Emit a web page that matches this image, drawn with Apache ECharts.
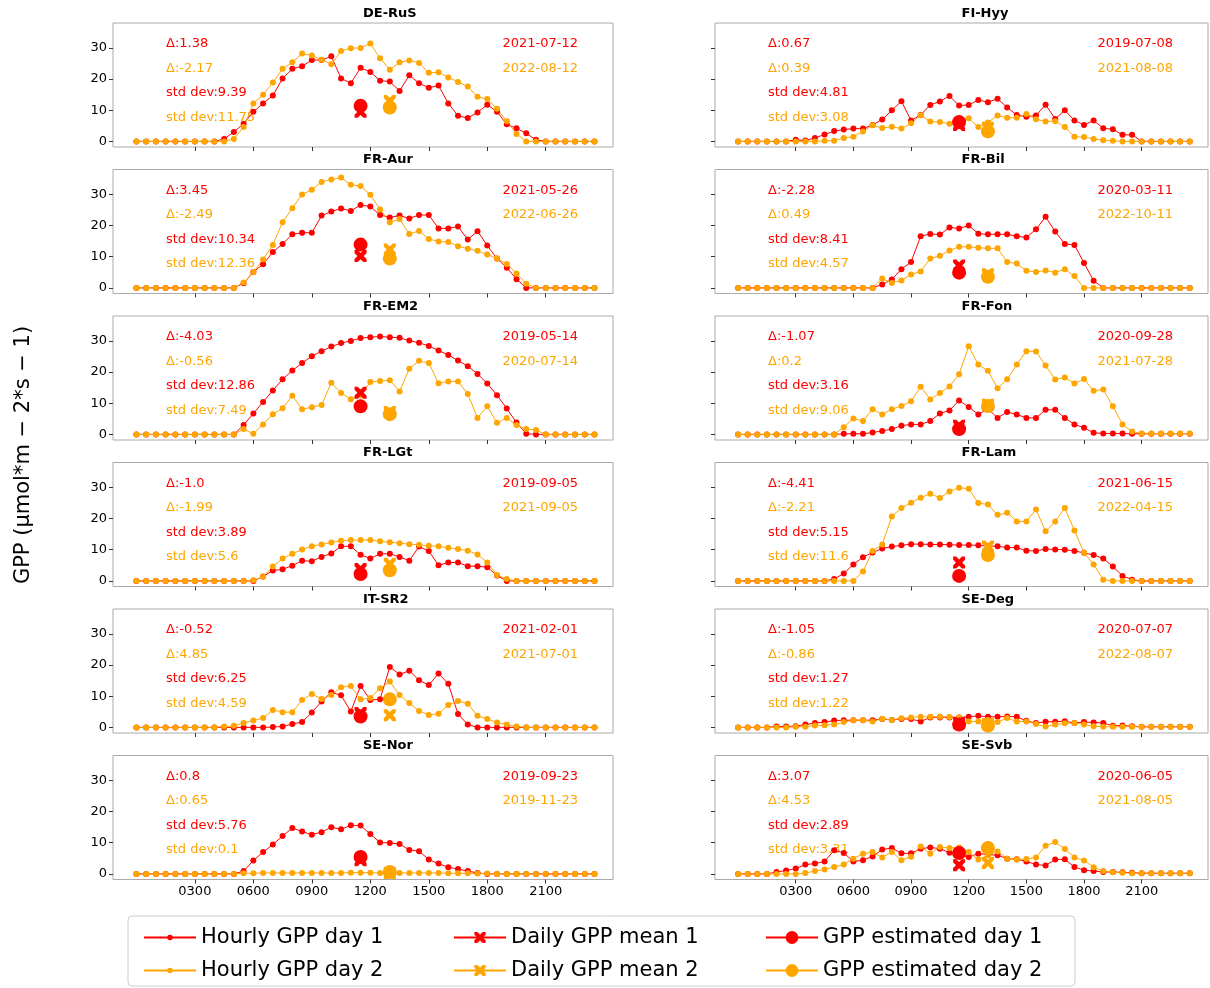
<!DOCTYPE html>
<html>
<head>
<meta charset="utf-8">
<script src="https://cdn.jsdelivr.net/npm/echarts@6/dist/echarts.min.js"></script>
<style>
  html, body { margin: 0; padding: 0; background: #fff; }
  #chart { width: 1210px; height: 988px; }
</style>
</head>
<body>
<div id="chart"></div>
<script>
// Half-hourly GPP values, index 0..47 (day 1 = red, day 2 = orange)
const deRuS1 = [0,0,0,0,0,0,0,0,0,0.8,3,5.7,9.5,12.2,14.7,20.2,23.3,24.1,26.1,26.1,27.3,20.2,18.7,23.6,22.3,19.5,19.2,16.2,21.2,18.7,17.2,17.9,12.2,8.2,7.5,9.3,11.8,9.5,5.5,4.2,2.6,0.5,0,0,0,0,0,0];
const deRuS2 = [0,0,0,0,0,0,0,0,0,0,0.8,4.6,12.2,15,18.9,23.3,25.4,28.2,27.6,26.2,24.8,29,29.9,30,31.4,26.7,23,25.4,26,25.2,22,22.2,20.5,19.1,17.6,14.3,13.6,10.5,6.5,2.4,0,0,0,0,0,0,0,0];
const fiHyy1 = [0,0,0,0,0,0,0.5,0.3,1.1,2.2,3.3,3.8,4.1,4.1,5.3,7,10,12.9,6.7,8.5,11.7,12.8,14.6,11.5,11.7,13.3,12.6,13.7,10.9,8.5,7.9,8.3,11.8,7.2,10,6.7,5.3,6.7,4.2,3.9,2.1,2.1,0,0,0,0,0,0];
const fiHyy2 = [0,0,0,0,0,0,0,0,0,0.2,0.2,1.1,1.5,3.2,5.2,4.3,4.7,4.1,5.8,8.4,6.4,6.2,5.7,7.1,7.4,4.6,6.1,8.3,7.6,7.6,8.8,7.1,6.4,6.5,4.6,1.5,1.4,0.8,0.4,0.2,0,0,0,0,0,0,0,0];
const frAur1 = [0,0,0,0,0,0,0,0,0,0,0,1.5,5.1,7.6,11.5,14.1,17.2,17.7,17.7,23.2,24.5,25.5,24.7,26.6,26.1,23.4,22.6,23.2,22.3,23.4,23.4,19.1,19.1,19.7,15.5,18.2,13.6,9.4,6.5,2.8,0,0,0,0,0,0,0,0];
const frAur2 = [0,0,0,0,0,0,0,0,0,0,0,1.7,5.1,9.1,13.8,21.1,25.6,30,31.5,34,34.8,35.4,33.1,32.7,29.9,25.2,21.1,22.1,17.3,18.3,15.7,14.9,14.7,13.4,12.6,11.9,10.7,9.4,7.7,4.6,1.3,0,0,0,0,0,0,0];
const frBil1 = [0,0,0,0,0,0,0,0,0,0,0,0,0,0,0,1.1,2.7,6,8.3,16.6,17.3,17.1,19.4,19.1,20,17.4,17.2,17.2,17.2,16.6,16.2,18.8,22.8,18.1,14.1,13.8,8,2.3,0,0,0,0,0,0,0,0,0,0];
const frBil2 = [0,0,0,0,0,0,0,0,0,0,0,0,0,0,0,3,1.6,2.4,4.3,5.3,9.4,10.3,12,13.2,13.2,12.9,12.7,12.7,8.3,7.8,5.5,5.1,5.6,4.9,6,3.8,0,0,0,0,0,0,0,0,0,0,0,0];
const frEM21 = [0,0,0,0,0,0,0,0,0,0,0,3,6.7,10.4,14.1,17.7,20.5,22.9,25.1,26.7,28.2,29.3,30,30.9,31.2,31.4,31.2,31,30.1,29.4,28.4,26.9,25.5,23.7,21.9,19.4,16.3,12.6,8.3,3.8,0.2,0,0,0,0,0,0,0];
const frEM22 = [0,0,0,0,0,0,0,0,0,0,0,1.7,0.2,3.2,6.5,8.4,12.4,8.1,8.7,9.4,16.6,13.3,11.3,12.5,16.8,17.1,17.4,13.8,21.1,23.6,22.9,16.4,17,17,13,5.3,9,3.7,5.3,3,1.7,1.4,0,0,0,0,0,0];
const frFon1 = [0,0,0,0,0,0,0,0,0,0,0,0.2,0.2,0.2,0.6,1.1,1.7,2.8,3.2,3.2,4.3,6.7,7.7,10.9,8.8,6.4,8.2,5.3,7.2,6.4,5.3,5.3,7.9,7.9,5.3,3.2,2.1,0.5,0.3,0.3,0.3,0.2,0.2,0.2,0.2,0.2,0.2,0.2];
const frFon2 = [0,0,0,0,0,0,0,0,0,0,0,2.3,5.1,4.3,8.1,6.4,8.1,9.1,10.6,15.3,11.2,13.3,15.4,19.3,28.3,22.4,20.4,14.8,17.7,22.4,26.7,26.6,22.1,17.6,18.3,16.3,17.8,14,14.4,9,3.2,0.9,0.3,0.3,0.3,0.3,0.3,0.3];
const frLGt1 = [0,0,0,0,0,0,0,0,0,0,0,0,0,1.4,3.3,3.7,4.9,6.5,6.3,7.7,8.8,11.1,11.1,8.4,7.2,8.7,8.7,7.7,6.5,11,9.6,5,5.9,5.9,4.7,4.7,4.4,1.7,0,0,0,0,0,0,0,0,0,0];
const frLGt2 = [0,0,0,0,0,0,0,0,0,0,0,0,0.2,1.3,4.6,7.2,8.7,10.1,11.1,11.7,12.3,12.9,13.1,13.1,13.1,12.7,12.4,12.1,11.8,11.6,11.3,11.1,10.6,10.2,9.7,8.5,5.9,1.9,0.6,0,0,0,0,0,0,0,0,0];
const frLam1 = [0,0,0,0,0,0,0,0,0,0,0.6,2.4,5.3,7.6,9.1,10.4,11,11.4,11.8,11.8,11.7,11.7,11.6,11.5,11.5,11.4,11.2,11.1,10.7,10.7,9.7,9.6,10.2,10.1,10,9.6,9,8.3,7.2,4.6,1.6,0.4,0,0,0,0,0,0];
const frLam2 = [0,0,0,0,0,0,0,0,0,0,0,0,0,3,9.6,11.7,20.7,23.4,25.1,26.7,28,26.6,28.7,29.9,29.6,25,24.5,21.2,21.9,19.1,19.1,22.9,15.9,19.1,23.4,16.2,9,5.3,0.4,0,0,0,0,0,0,0,0,0];
const itSR21 = [0,0,0,0,0,0,0,0,0,0,0,0,0,0,0.1,0.3,1.1,1.7,4.8,8.3,11.3,10.3,5.1,13.3,8.8,9,19.4,17,18.2,15.1,13.6,17.3,14,4.3,0.9,0,0,0,0,0,0,0,0,0,0,0,0,0];
const itSR22 = [0,0,0,0,0,0,0,0,0,0.3,0.5,1.4,2.2,3,5.6,4.9,4.9,8.8,10.7,9.1,10.4,12.9,13.3,9,9.4,12.6,14.7,10.4,7.8,5.3,4,4.4,7.2,8.5,7.6,3.7,2.7,1.6,0.9,0.3,0,0,0,0,0,0,0,0];
const seDeg1 = [0,0,0,0,0.3,0.3,0.4,0.9,1.4,1.7,2.2,2.3,2.3,2.3,2.3,2.7,2.4,2.7,2.7,1.9,3.2,3.2,3.2,3.2,3.4,3.7,3.4,3.4,3.5,3.4,2.1,1.4,1.8,1.8,2,1.4,1.7,1.6,1.4,0.5,0.6,0.4,0.2,0.2,0.2,0.2,0.2,0.2];
const seDeg2 = [0,0,0,0,0,0,0.2,0.2,0.6,0.7,0.9,1.7,2.3,2.3,1.9,2.8,2.4,2.9,3.2,3.4,3.4,3.4,3.3,3.2,1.9,1.9,2.4,1.7,3,1.9,1.9,1.1,0.3,0.9,1.3,1.4,0.9,0.4,0.2,0.2,0.2,0.2,0.2,0.2,0.2,0.2,0.2,0.2];
const seNor1 = [0,0,0,0,0,0,0,0,0,0,0,0.9,4.3,7,9.4,12.2,14.7,13.6,12.6,13.4,15,14.3,15.6,15.5,12.8,10.1,9.9,9.6,7.7,7.3,4.6,3.3,2.1,1.6,0.9,0.3,0,0,0,0,0,0,0,0,0,0,0,0];
const seNor2 = [0,0,0,0,0,0,0,0,0,0,0,0.2,0.2,0.3,0.3,0.3,0.3,0.3,0.3,0.3,0.3,0.3,0.4,0.4,0.4,0.3,0.3,0.3,0.3,0.3,0.3,0.3,0.2,0.2,0.2,0.1,0.1,0,0,0,0,0,0,0,0,0,0,0];
const seSvb1 = [0,0,0,0,0.6,1.1,1.7,3,3.3,4,7.6,6.7,4,4.4,5.6,7.8,8.3,6.6,6.6,8.1,8.5,8.1,6.8,6.2,5.4,6.5,6.2,6,4.9,4.7,4,3,2.7,4.6,4.7,2.2,1.2,0.9,0.6,0.6,0.5,0.4,0.2,0.2,0.2,0.2,0.2,0.2];
const seSvb2 = [0,0,0,0,0,0,0,0.3,0.9,1.4,2.2,3,4.9,6.5,7,5.3,7,4.4,5.5,8.8,6.5,8.6,8.3,8.5,7,4.6,6,7.2,4.9,4.6,4.8,5.3,9,10.2,8,5.3,4.3,2.1,0.9,0.5,0.4,0.2,0.2,0.2,0.2,0.2,0.2,0.2];

// panel order: left column top-down, then right column top-down
const sites = ['DE-RuS','FR-Aur','FR-EM2','FR-LGt','IT-SR2','SE-Nor','FI-Hyy','FR-Bil','FR-Fon','FR-Lam','SE-Deg','SE-Svb'];
const hourly1 = [deRuS1, frAur1, frEM21, frLGt1, itSR21, seNor1, fiHyy1, frBil1, frFon1, frLam1, seDeg1, seSvb1];
const hourly2 = [deRuS2, frAur2, frEM22, frLGt2, itSR22, seNor2, fiHyy2, frBil2, frFon2, frLam2, seDeg2, seSvb2];
const mean1 = [9.5, 10.2, 13.4, 3.8, 4.6, 4.4, 5.3, 7.2, 2.8, 5.9, 1.4, 2.8];
const est1 = [11.4, 13.9, 9, 2.2, 3.5, 5.4, 6.2, 4.9, 1.7, 1.6, 0.9, 6.7];
const mean2 = [13, 12.3, 7.2, 5.5, 3.9, 0.3, 4.4, 4.4, 9.5, 11, 1.1, 3.5];
const est2 = [10.9, 9.4, 6.5, 3.4, 9, 0.6, 3.2, 3.6, 9.1, 8.3, 0.6, 8.3];
const delta1 = ['1.38','3.45','-4.03','-1.0','-0.52','0.8','0.67','-2.28','-1.07','-4.41','-1.05','3.07'];
const delta2 = ['-2.17','-2.49','-0.56','-1.99','4.85','0.65','0.39','0.49','0.2','-2.21','-0.86','4.53'];
const std1 = ['9.39','10.34','12.86','3.89','6.25','5.76','4.81','8.41','3.16','5.15','1.27','2.89'];
const std2 = ['11.75','12.36','7.49','5.6','4.59','0.1','3.08','4.57','9.06','11.6','1.22','3.31'];
const date1 = ['2021-07-12','2021-05-26','2019-05-14','2019-09-05','2021-02-01','2019-09-23','2019-07-08','2020-03-11','2020-09-28','2021-06-15','2020-07-07','2020-06-05'];
const date2 = ['2022-08-12','2022-06-26','2020-07-14','2021-09-05','2021-07-01','2019-11-23','2021-08-08','2022-10-11','2021-07-28','2022-04-15','2022-08-07','2021-08-05'];
const meanX1 = 23, meanX2 = 26;
const xTickPos = [6, 12, 18, 24, 30, 36, 42];
const xTickLabels = ['0300', '0600', '0900', '1200', '1500', '1800', '2100'];
const yTicks = [0, 10, 20, 30];

const RED = '#ff0000', ORANGE = '#ffa500';
const CROSS = 'path://M0,0 L2.6,0 L5,2.4 L7.4,0 L10,0 L10,2.6 L7.6,5 L10,7.4 L10,10 L7.4,10 L5,7.6 L2.6,10 L0,10 L0,7.4 L2.4,5 L0,2.6 Z';
const names = ['Hourly GPP day 1', 'Hourly GPP day 2', 'Daily GPP mean 1', 'Daily GPP mean 2', 'GPP estimated day 1', 'GPP estimated day 2'];

const chart = echarts.init(document.getElementById('chart'));
const grid = [], xAxis = [], yAxis = [], series = [], graphic = [];

sites.forEach((site, k) => {
  const col = k < 6 ? 0 : 1, row = k % 6;
  const left = col === 0 ? 113 : 715, width = col === 0 ? 500 : 493;
  const top = 23 + row * 146.5, height = 124;
  grid.push({ left, top, width, height, show: true, borderColor: '#aaa', borderWidth: 1, containLabel: false });
  xAxis.push({
    gridIndex: k, type: 'value', min: -2.4, max: 48.9, position: 'bottom',
    axisLine: { show: false, onZero: false }, splitLine: { show: false },
    axisTick: { customValues: xTickPos, length: 4, lineStyle: { color: '#333' } },
    axisLabel: {
      show: row === 5, customValues: xTickPos, color: '#000', fontSize: 13, margin: 6,
      formatter: v => xTickLabels[xTickPos.indexOf(v)]
    }
  });
  yAxis.push({
    gridIndex: k, type: 'value', min: -1.8, max: 38, position: 'left',
    axisLine: { show: false, onZero: false }, splitLine: { show: false },
    axisTick: { show: true, customValues: yTicks, length: 4, lineStyle: { color: '#333' } },
    axisLabel: { show: col === 0, customValues: yTicks, color: '#000', fontSize: 13, margin: 6 }
  });
  const idx = hourly1[k].map((v, i) => i);
  series.push(
    { name: names[0], type: 'line', xAxisIndex: k, yAxisIndex: k, data: idx.map(i => [i, hourly1[k][i]]),
      symbol: 'circle', symbolSize: 6, color: RED, lineStyle: { width: 1 }, z: 3 },
    { name: names[1], type: 'line', xAxisIndex: k, yAxisIndex: k, data: idx.map(i => [i, hourly2[k][i]]),
      symbol: 'circle', symbolSize: 6, color: ORANGE, lineStyle: { width: 1 }, z: 3 },
    { name: names[2], type: 'line', xAxisIndex: k, yAxisIndex: k, data: [[meanX1, mean1[k]]],
      symbol: CROSS, symbolSize: 12, color: RED, lineStyle: { width: 1 }, z: 4 },
    { name: names[3], type: 'line', xAxisIndex: k, yAxisIndex: k, data: [[meanX2, mean2[k]]],
      symbol: CROSS, symbolSize: 12, color: ORANGE, lineStyle: { width: 1 }, z: 4 },
    { name: names[4], type: 'line', xAxisIndex: k, yAxisIndex: k, data: [[meanX1, est1[k]]],
      symbol: 'circle', symbolSize: 14, color: RED, lineStyle: { width: 1 }, z: 5 },
    { name: names[5], type: 'line', xAxisIndex: k, yAxisIndex: k, data: [[meanX2, est2[k]]],
      symbol: 'circle', symbolSize: 14, color: ORANGE, lineStyle: { width: 1 }, z: 5 }
  );
  // title and annotations
  graphic.push({ type: 'text', left: left + width / 2, top: top - 16,
    style: { text: site, font: 'bold 13px "DejaVu Sans"', fill: '#000', textAlign: 'center' } });
  const tx = left + 53, rx = left + width - 35;
  const lines = [['Δ:' + delta1[k], RED], ['Δ:' + delta2[k], ORANGE], ['std dev:' + std1[k], RED], ['std dev:' + std2[k], ORANGE]];
  lines.forEach((l, j) => {
    graphic.push({ type: 'text', x: tx, y: top + 21 + j * 24.5, z: 1,
      style: { text: l[0], font: '13px "DejaVu Sans"', fill: l[1], textVerticalAlign: 'middle' } });
  });
  [[date1[k], RED], [date2[k], ORANGE]].forEach((l, j) => {
    graphic.push({ type: 'text', x: rx, y: top + 21 + j * 24.5, z: 1,
      style: { text: l[0], font: '13px "DejaVu Sans"', fill: l[1], textAlign: 'right', textVerticalAlign: 'middle' } });
  });
});

// y-axis title
graphic.push({ type: 'text', x: 24, y: 455, rotation: Math.PI / 2,
  style: { text: 'GPP (μmol*m − 2*s − 1)', font: '21px "DejaVu Sans"', fill: '#000', textAlign: 'center', textVerticalAlign: 'middle' } });
// legend frame
graphic.push({ type: 'rect', shape: { x: 128, y: 916, width: 947, height: 70, r: 4 },
  style: { fill: 'none', stroke: '#ccc', lineWidth: 1 }, z: -1 });

const legendPos = [[138, 922], [138, 955], [448, 922], [448, 955], [760, 922], [760, 955]];
const legendIconH = [7, 7, 14, 14, 16, 16];
const legend = names.map((n, i) => ({
  data: [n], left: legendPos[i][0], top: legendPos[i][1],
  itemWidth: 52, itemHeight: legendIconH[i], itemGap: 10,
  textStyle: { fontSize: 21, color: '#000', fontFamily: 'DejaVu Sans' }, selectedMode: false
}));

chart.setOption({
  animation: false,
  textStyle: { fontFamily: 'DejaVu Sans' },
  grid, xAxis, yAxis, series, graphic, legend
});
</script>
</body>
</html>
